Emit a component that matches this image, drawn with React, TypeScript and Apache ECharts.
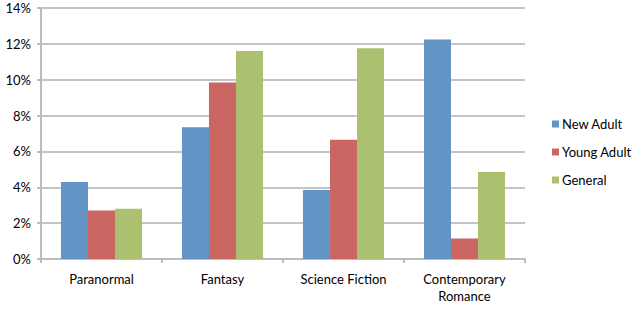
import React, { useEffect, useRef } from "react";
import * as echarts from "echarts";

const categories = ["Paranormal", "Fantasy", "Science Fiction", "Contemporary\nRomance"];
const seriesNames = ["New Adult", "Young Adult", "General"];
const newAdult = [4.3, 7.35, 3.85, 12.25];
const youngAdult = [2.7, 9.85, 6.65, 1.15];
const general = [2.8, 11.6, 11.75, 4.85];
const colors = ["#6394C6", "#CA6763", "#ABC16F"];

export default function App() {
  const ref = useRef<HTMLDivElement>(null);
  useEffect(() => {
    if (!ref.current) return;
    const chart = echarts.init(ref.current, null, { renderer: "svg" });
    const font = "Lato, 'Open Sans', sans-serif";
    const values = [newAdult, youngAdult, general];
    chart.setOption({
      animation: false,
      color: colors,
      textStyle: { fontFamily: font },
      grid: { left: 41, right: 113, top: 8, bottom: 50, containLabel: false },
      legend: {
        orient: "vertical",
        left: 547,
        top: 111,
        itemWidth: 7,
        itemHeight: 7,
        itemGap: 12,
        icon: "rect",
        data: seriesNames,
        textStyle: { fontFamily: font, fontSize: 13, color: "#000", lineHeight: 16, padding: [0, 0, 0, -2] },
      },
      xAxis: {
        type: "category",
        data: categories,
        axisLine: { lineStyle: { color: "#bdbdbd", width: 2 } },
        axisTick: { show: true, length: 4, lineStyle: { color: "#bdbdbd", width: 2 } },
        axisLabel: { fontFamily: font, fontSize: 13, color: "#000", margin: 11, lineHeight: 17 },
      },
      yAxis: {
        type: "value",
        min: 0,
        max: 14,
        interval: 2,
        axisLine: { show: true, lineStyle: { color: "#bdbdbd", width: 2 } },
        axisTick: { show: true, length: 4, lineStyle: { color: "#bdbdbd", width: 2 } },
        splitLine: { lineStyle: { color: "#c4c4c4", width: 2 } },
        axisLabel: { fontFamily: font, fontSize: 13, color: "#000", margin: 10, formatter: "{value}%" },
      },
      series: seriesNames.map((name, i) => ({
        name,
        type: "bar",
        data: values[i],
        barGap: "0%",
        barCategoryGap: "33%",
        itemStyle: { color: colors[i] },
      })),
    });
    return () => chart.dispose();
  }, []);
  return <div ref={ref} style={{ width: 638, height: 309, position: "absolute", left: 0, top: 0 }} />;
}
